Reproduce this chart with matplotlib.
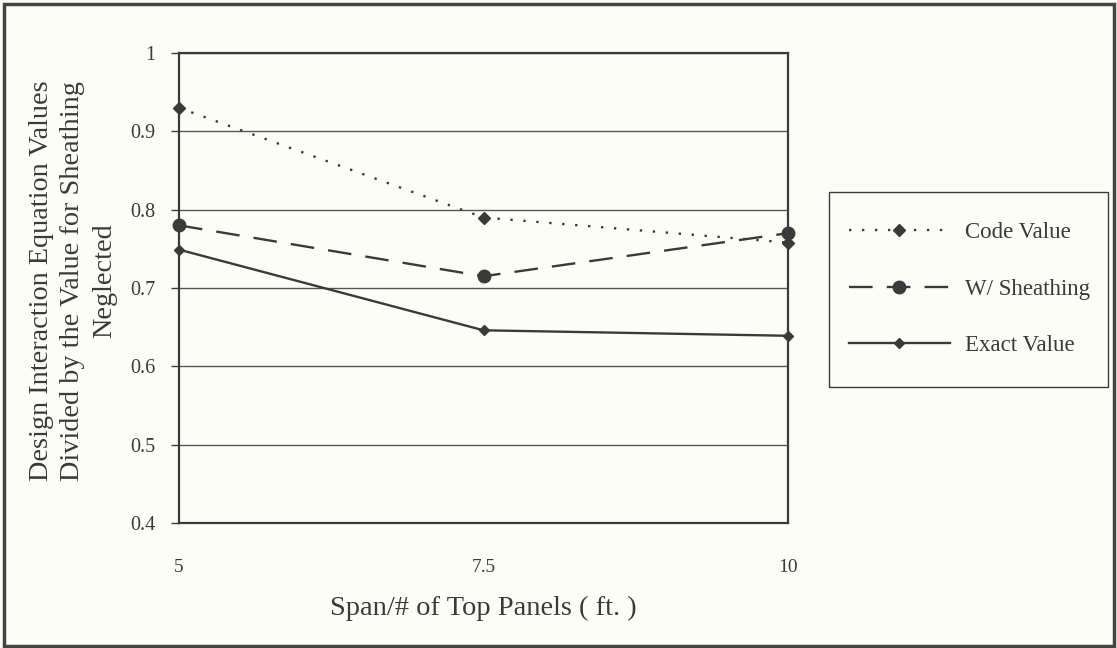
import matplotlib
matplotlib.use("Agg")
import matplotlib.pyplot as plt
from matplotlib.patches import Rectangle
from matplotlib.lines import Line2D

x_labels = ["5", "7.5", "10"]
code_value = [0.93, 0.79, 0.758]
with_sheathing = [0.78, 0.715, 0.77]
exact_value = [0.749, 0.646, 0.639]
y_ticks = [0.4, 0.5, 0.6, 0.7, 0.8, 0.9, 1.0]
y_tick_labels = ["0.4", "0.5", "0.6", "0.7", "0.8", "0.9", "1"]
series_names = ["Code Value", "W/ Sheathing", "Exact Value"]

W, H = 1117, 648
bg = "#fdfdf8"
ink = "#3a3a3a"
serif = ["Liberation Serif", "DejaVu Serif"]

fig = plt.figure(figsize=(W/100, H/100), dpi=100, facecolor=bg)
ax = fig.add_axes([179/W, 1-523/H, (788-179)/W, (523-53)/H], facecolor=bg)

xs = [0, 1, 2]
styles = [
    dict(linestyle=(0, (1, 4.5)), marker="D", ms=6.5),
    dict(linestyle=(0, (10, 6)), marker="o", ms=9),
    dict(linestyle="-", marker="D", ms=5.5),
]
for vals, st in zip([code_value, with_sheathing, exact_value], styles):
    ax.plot(xs, vals, color=ink, lw=1.7, mfc=ink, mec=ink,
            clip_on=False, zorder=4, **st)

ax.set_xlim(0, 2)
ax.set_ylim(0.4, 1.0)
ax.set_yticks(y_ticks)
ax.set_yticklabels(y_tick_labels, fontfamily=serif, fontsize=14.5, color=ink)
ax.set_xticks(xs)
ax.set_xticklabels(x_labels, fontfamily=serif, fontsize=14, color=ink)
ax.tick_params(axis="y", length=6, width=1, color=ink, pad=11)
ax.tick_params(axis="x", length=0, pad=26)
ax.yaxis.grid(True, color="#555555", lw=1)
ax.set_axisbelow(True)
for s in ax.spines.values():
    s.set_color(ink)
    s.set_linewidth(1.6)

fig.text(483/W, 1-608/H, "Span/# of Top Panels ( ft. )", fontfamily=serif,
         fontsize=20.5, color=ink, ha="center", va="center")
fig.text(73/W, 1-281/H,
         "Design Interaction Equation Values\nDivided by the Value for Sheathing\nNeglected",
         fontfamily=serif, fontsize=20.3, color=ink, rotation=90,
         ha="center", va="center", multialignment="center", linespacing=1.36)

# legend
handles = [Line2D([], [], color=ink, lw=1.7, mfc=ink, mec=ink, **st) for st in styles]
leg = fig.legend(handles, series_names, loc="upper left",
                 bbox_to_anchor=(849/W, 1-222/H),
                 prop={"family": serif, "size": 16.5}, frameon=False,
                 handlelength=4.4, labelspacing=1.55, borderpad=0,
                 handletextpad=0.65, borderaxespad=0)
for t in leg.get_texts():
    t.set_color(ink)
fig.patches.append(Rectangle((829/W, 1-387/H), (1108-829)/W, (387-192)/H,
                             transform=fig.transFigure, fill=False,
                             edgecolor=ink, lw=1.0))

fig.patches.append(Rectangle((4/W, 2/H), 1110/W, 642/H,
                             transform=fig.transFigure, fill=False,
                             edgecolor="#444444", lw=2.5))

fig.savefig("out.png", dpi=100, facecolor=bg)
